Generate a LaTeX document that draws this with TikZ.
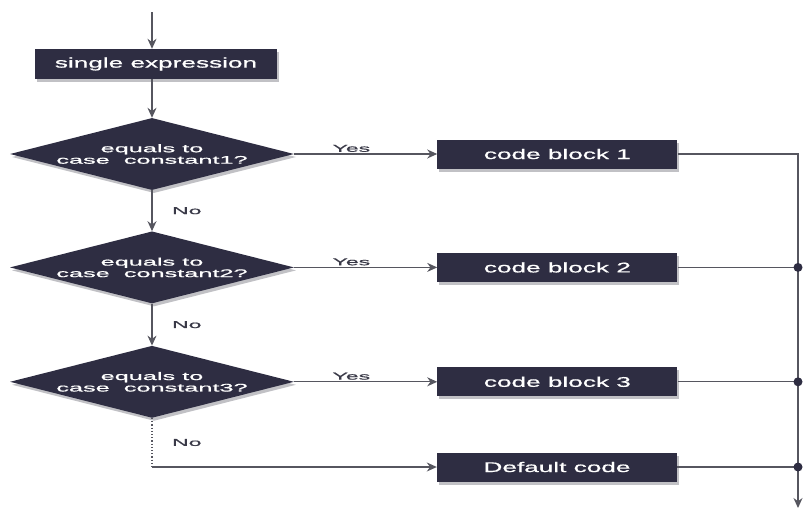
\documentclass[tikz,border=0pt]{standalone}
\usepackage{fontspec}
\newfontfamily\blockfont{Liberation Sans}[FakeStretch=1.87, FakeBold=0.9]
\newfontfamily\testfont{Liberation Sans}[FakeStretch=2.3, FakeBold=0.9]
\usetikzlibrary{arrows.meta,positioning,shapes.geometric,shadows}
\definecolor{fcNavy}{HTML}{2E2D42}
\definecolor{fcInk}{HTML}{3A3A48}
\definecolor{fcLine}{HTML}{56565F}
\definecolor{fcShade}{HTML}{8E8E96}
\begin{document}
\begin{tikzpicture}[
  x=1pt, y=-1pt,
  >={Stealth[length=10pt,width=9pt]},
  block/.style={
    rectangle,
    fill=fcNavy,
    text=white,
    minimum width=240pt,
    minimum height=29pt,
    inner sep=0pt,
    font=\blockfont\fontsize{14}{16}\selectfont,
    drop shadow={shadow xshift=2pt, shadow yshift=-3pt, fill=fcShade, opacity=0.55}
  },
  test/.style={
    diamond,
    fill=fcNavy,
    text=white,
    aspect=3.95,
    minimum width=284pt,
    minimum height=72pt,
    inner sep=0pt,
    align=center,
    font=\testfont\fontsize{11}{11.5}\selectfont,
    drop shadow={shadow xshift=2pt, shadow yshift=-3pt, fill=fcShade, opacity=0.55}
  },
  edge/.style={->, draw=fcLine, line width=1.2pt},
  wire/.style={draw=fcLine, line width=1.2pt},
  lab/.style={font=\testfont\fontsize{10}{12}\selectfont, text=fcInk, inner sep=1.5pt}
]
  \useasboundingbox (0,0) rectangle (803,509);

  \node[block, minimum width=242pt, minimum height=30pt]
    (E) at (156,64) {single expression};
  \node[test] (C1) at (152,154) {equals to\\case\ \ constant1?};
  \node[test, below=41pt of C1] (C2) {equals to\\case\ \ constant2?};
  \node[test, below=42pt of C2] (C3) {equals to\\case\ \ constant3?};

  \node[block, right=143pt of C1] (B1) {code block 1};
  \node[block, right=143pt of C2] (B2) {code block 2};
  \node[block, right=143pt of C3] (B3) {code block 3};
  \node[block] (D) at (557,467) {Default code};

  \coordinate (start) at (152,12);
  \coordinate (turn) at (C3 |- D);
  \coordinate (end) at (798,508);

  \draw[edge] (start) -- (start |- E.north);
  \draw[edge] (C1 |- E.south) -- (C1.north);

  \draw[edge] (C1) -- node[lab, above, pos=0.4] {Yes} (B1);
  \draw[edge] (C2) -- node[lab, above, pos=0.4] {Yes} (B2);
  \draw[edge] (C3) -- node[lab, above, pos=0.4] {Yes} (B3);

  \draw[edge] (C1) -- node[lab, right, xshift=18pt] {No} (C2);
  \draw[edge] (C2) -- node[lab, right, xshift=18pt] {No} (C3);
  \draw[wire, dotted] (C3.south) -- node[lab, right, xshift=18pt] {No} (turn);
  \draw[edge] (turn) -- (D);

  % merge rail on the right
  \draw[edge] (B1) -| (end);
  \foreach \b in {B2,B3,D}{
    \draw[wire] (\b) -- (\b -| end);
    \fill[fcNavy] (\b -| end) circle (4.5pt);
  }
\end{tikzpicture}
\end{document}
